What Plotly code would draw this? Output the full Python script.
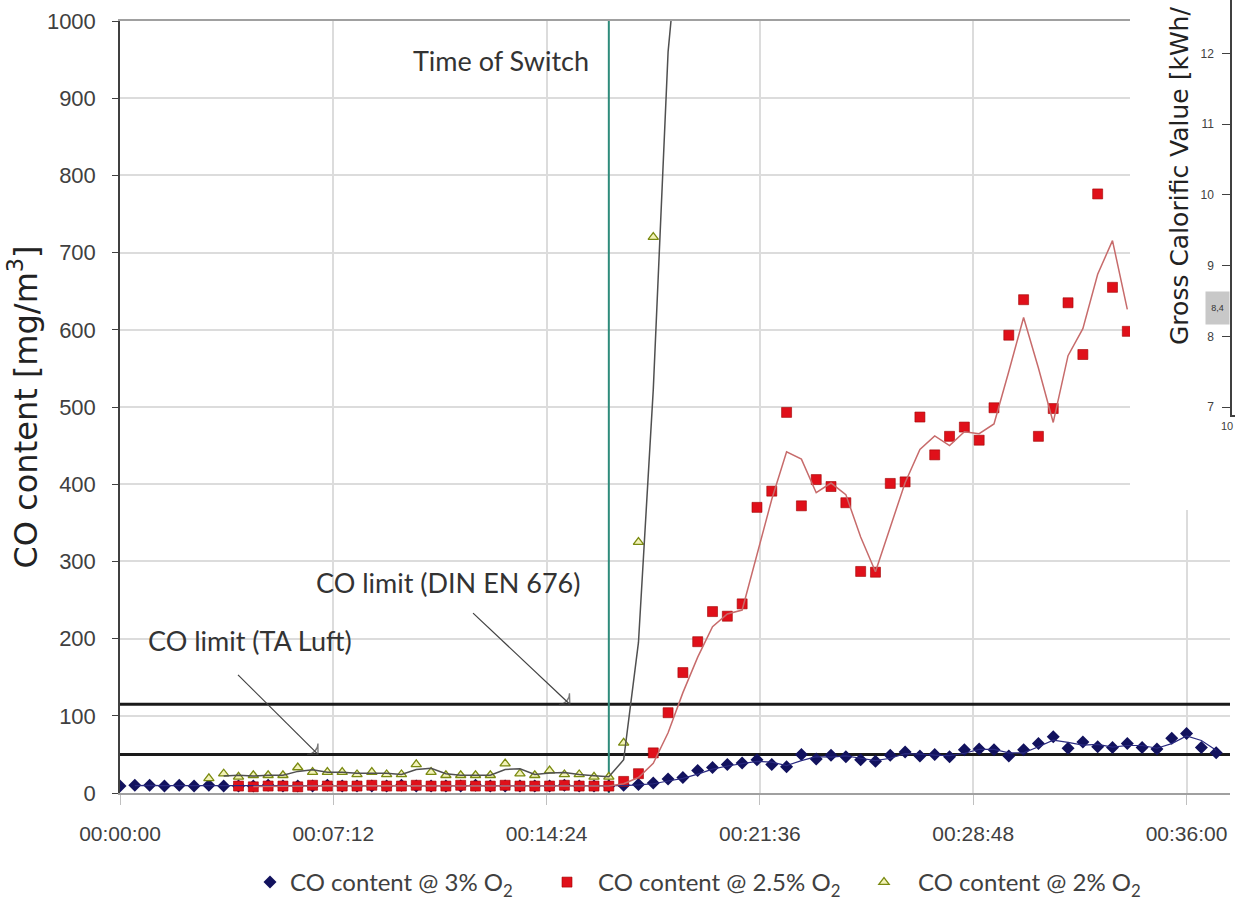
import plotly.graph_objects as go

# ---------------- data ----------------
STEP = 30  # seconds between samples
X_MAX = 2248
X_TICK_VALS = [0, 432, 864, 1296, 1728, 2160]
X_TICK_TEXT = ["00:00:00", "00:07:12", "00:14:24", "00:21:36", "00:28:48", "00:36:00"]
Y_TICK_VALS = [0, 100, 200, 300, 400, 500, 600, 700, 800, 900, 1000]

SWITCH_TIME = 990
LIMIT_DIN = 115
LIMIT_TA = 50

BLUE_START = 0
BLUE_VALUES = [9, 10, 10, 9, 10, 9, 10, 9, 9, 9, 10, 9, 9, 9, 10, 9, 9, 9, 9, 10,
               9, 9, 9, 9, 10, 9, 9, 9, 9, 9, 10, 9, 9, 9, 10,
               11, 13, 18, 20, 29, 33, 37, 39, 43, 37, 34, 50, 44, 49, 47, 43, 41, 49, 53, 48,
               50, 47, 56, 57, 56, 48, 56, 64, 73, 58, 66, 60, 59, 64, 59, 57, 71, 77, 59, 52]

RED_START = 240
RED_VALUES = [9, 8, 9, 9, 8, 10, 9, 9, 9, 10, 9, 9, 10, 9, 9, 10, 9, 9, 10, 9, 9, 9, 10, 9, 9, 9,
              15, 25, 52, 104, 156, 196, 235, 229, 245, 370, 391, 493, 372, 406, 397, 376, 287, 286,
              401, 403, 487, 438, 462, 474, 457, 499, 593, 639, 462, 498, 635, 568, 776, 655, 598]

TRI_START = 180
TRI_VALUES = [19, 25, 21, 23, 23, 23, 33, 27, 27, 27, 24, 27, 24, 24, 37, 27, 23, 23, 23, 23,
              38, 25, 23, 29, 24, 24, 21, 21, 65, 325, 720, 1200, 1130]

INSET_TICKS = [7, 8, 9, 10, 11, 12]
INSET_RANGE = [6.891, 12.753]
INSET_MARK = 8.4

NAMES = ["CO content @ 3% O<sub>2</sub>", "CO content @ 2.5% O<sub>2</sub>", "CO content @ 2% O<sub>2</sub>"]

# callout arrows: (tail time, tip time), (tail value, tip value on the limit line)
ARROW_DIN = ([715, 911], [233, LIMIT_DIN])
ARROW_TA = ([239, 401], [153, LIMIT_TA])


def times(start, values):
    return [start + i * STEP for i in range(len(values))]


def moving_avg2(t, v):
    # Excel-style 2-period moving average trendline
    return t[1:], [(a + b) / 2 for a, b in zip(v[:-1], v[1:])]


# ---------------- geometry helpers (page px -> paper) ----------------
L, R, T, B = 120, 0, 0, 114
W, H = 1235, 907
PW, PH = W - L - R, H - T - B


def px_x(p):
    return (p - L) / PW


def px_y(p):
    return (H - B - p) / PH


fig = go.Figure()

# limit lines and time-of-switch line (below the data)
for lim in (LIMIT_DIN, LIMIT_TA):
    fig.add_trace(go.Scatter(x=[0, X_MAX], y=[lim, lim], mode="lines", showlegend=False,
                             hoverinfo="skip", line=dict(color="#1a1a1a", width=3)))
fig.add_trace(go.Scatter(x=[SWITCH_TIME, SWITCH_TIME], y=[0, 1000], mode="lines", showlegend=False,
                         hoverinfo="skip", line=dict(color="#2e8b7b", width=2)))

t_b = times(BLUE_START, BLUE_VALUES)
t_r = times(RED_START, RED_VALUES)
t_t = times(TRI_START, TRI_VALUES)

fig.add_trace(go.Scatter(x=t_b, y=BLUE_VALUES, mode="markers", name=NAMES[0], legend="legend",
                         marker=dict(symbol="diamond", size=10, color="#12125e", line=dict(width=0))))
fig.add_trace(go.Scatter(x=t_r, y=RED_VALUES, mode="markers", name=NAMES[1], legend="legend2",
                         marker=dict(symbol="square", size=10, color="#e0101a",
                                     line=dict(width=0.6, color="#a00000"))))
fig.add_trace(go.Scatter(x=t_t, y=TRI_VALUES, mode="markers", name=NAMES[2], legend="legend3",
                         marker=dict(symbol="triangle-up", size=9, color="#f2f2b8",
                                     line=dict(width=1.3, color="#7a8a10"))))

for t, v, col, w in [(t_b, BLUE_VALUES, "#2a2a80", 1.2),
                     (t_r, RED_VALUES, "#c76b6b", 1.5),
                     (t_t, TRI_VALUES, "#505050", 1.5)]:
    mx, my = moving_avg2(t, v)
    fig.add_trace(go.Scatter(x=mx, y=my, mode="lines", showlegend=False, hoverinfo="skip",
                             line=dict(color=col, width=w)))

# callout arrows
for ax_, ay_ in (ARROW_DIN, ARROW_TA):
    fig.add_trace(go.Scatter(x=ax_, y=ay_, mode="lines+markers", showlegend=False, hoverinfo="skip",
                             line=dict(color="#404040", width=1.2),
                             marker=dict(symbol="arrow-wide-open", size=[0, 11], angleref="previous",
                                         color="#404040", line=dict(color="#404040", width=1.3))))

# inset cover subplot (white background) and inset axis subplot
fig.add_trace(go.Scatter(x=[None], y=[None], xaxis="x2", yaxis="y2", showlegend=False, hoverinfo="skip"))
fig.add_trace(go.Scatter(x=[None], y=[None], xaxis="x3", yaxis="y3", showlegend=False, hoverinfo="skip"))

ann_font = dict(family="Lato", size=27, color="#333333")
fig.add_annotation(text="Time of Switch", xref="x", x=SWITCH_TIME, xanchor="right", xshift=-18,
                   yref="paper", y=px_y(60), yanchor="middle", showarrow=False, font=ann_font)
fig.add_annotation(text="CO limit (DIN EN 676)", xref="paper", x=px_x(448), xanchor="center",
                   yref="paper", y=px_y(582), yanchor="middle", showarrow=False, font=ann_font)
fig.add_annotation(text="CO limit (TA Luft)", xref="paper", x=px_x(250), xanchor="center",
                   yref="paper", y=px_y(640), yanchor="middle", showarrow=False, font=ann_font)

# inset title (visible part of the cropped inset chart) + label
fig.add_annotation(text="Gross Calorific Value [kWh/", textangle=-90,
                   xref="paper", x=px_x(1179), xanchor="center", yref="paper", y=px_y(347),
                   yanchor="bottom", showarrow=False,
                   font=dict(family="DejaVu Sans", size=25, color="#222222"))
fig.add_annotation(text="8,4", xref="paper", x=px_x(1217.5), xanchor="center", yref="y3", y=INSET_MARK,
                   yanchor="middle", showarrow=False, width=21, height=30,
                   font=dict(family="Liberation Sans", size=9, color="#333333"),
                   bgcolor="#c8c8c8")

tick_font_y = dict(family="Liberation Sans", size=22, color="#404040")
tick_font_x = dict(family="Liberation Sans", size=21, color="#404040")
leg_font = dict(family="Lato", size=24, color="#404040")


def leg(x_px, item_w):
    return dict(x=px_x(x_px), y=px_y(905), xanchor="left", yanchor="bottom",
                orientation="h", itemwidth=item_w, font=leg_font, bgcolor="rgba(0,0,0,0)")


fig.update_layout(
    width=W, height=H,
    margin=dict(l=L, r=R, t=T, b=B, autoexpand=False),
    paper_bgcolor="white", plot_bgcolor="white",
    xaxis=dict(domain=[0, px_x(1230)], range=[0, X_MAX], tickvals=X_TICK_VALS, ticktext=X_TICK_TEXT,
               showgrid=True, gridcolor="#dcdcdc", gridwidth=1.5, zeroline=False,
               showline=True, linecolor="#a0a0a0", linewidth=1.5, mirror=True,
               ticks="outside", ticklen=10, tickcolor="#c0c0c0", tickfont=tick_font_x,
               ticklabelstandoff=11),
    yaxis=dict(domain=[0, px_y(21)], range=[0, 1000], tickvals=Y_TICK_VALS,
               showgrid=True, gridcolor="#dcdcdc", gridwidth=1.5, zeroline=False,
               showline=True, linecolor="#404040", linewidth=1.5, mirror=False,
               ticks="outside", ticklen=6, tickcolor="#404040", tickfont=tick_font_y,
               ticklabelstandoff=12,
               title=dict(text="CO content [mg/m<sup>3</sup>]", standoff=0,
                          font=dict(family="DejaVu Sans", size=32, color="#222222"))),
    xaxis2=dict(domain=[px_x(1130), 1], anchor="y2", visible=False, range=[0, 1]),
    yaxis2=dict(domain=[px_y(510), 1], anchor="x2", visible=False, range=[0, 1]),
    xaxis3=dict(domain=[px_x(1232), 1], anchor="y3", range=[10, 30], tickvals=[10], ticktext=["10"],
                showgrid=False, zeroline=False, showline=True, linecolor="#404040", linewidth=1.5,
                ticks="", ticklabeloverflow="allow", ticklabelshift=-5,
                tickfont=dict(family="Liberation Sans", size=11, color="#404040")),
    yaxis3=dict(domain=[px_y(415), 1], anchor="x3", range=INSET_RANGE, tickvals=INSET_TICKS,
                showgrid=False, zeroline=False, showline=True, linecolor="#404040", linewidth=1.5,
                ticks="outside", ticklen=8, tickcolor="#404040", ticklabelstandoff=6,
                tickfont=dict(family="Liberation Sans", size=12, color="#404040")),
    legend=leg(250, 30),
    legend2=leg(536, 52),
    legend3=leg(850, 58),
    showlegend=True,
)

fig.write_html("out.html")
